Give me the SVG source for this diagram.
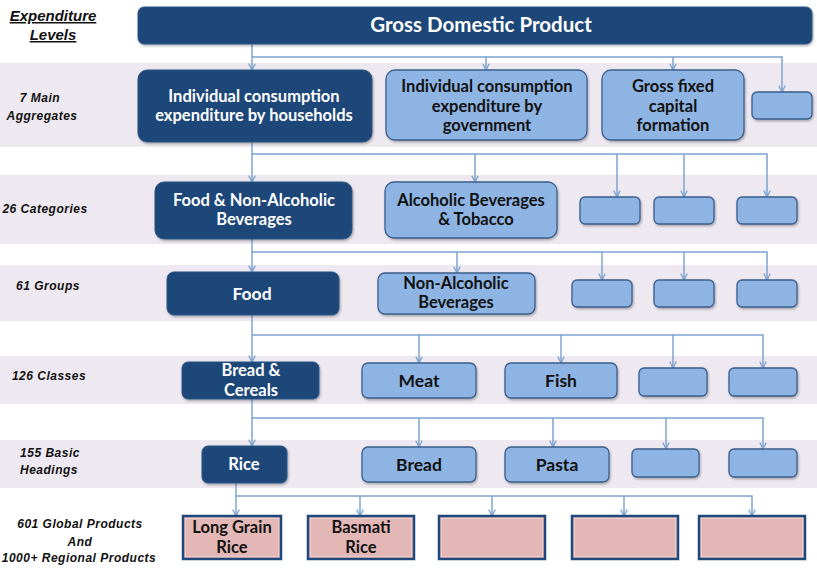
<svg xmlns="http://www.w3.org/2000/svg" width="817" height="572" viewBox="0 0 817 572">
<defs>
<style>
.band{fill:#EEE8F0}
.dk{fill:#1B4678;stroke:#2E5686;stroke-width:1}
.lt{fill:#8EB4E3;stroke:#3A5E8C;stroke-width:1.3}
.pk{fill:#E3B7B6;stroke:#1F497D;stroke-width:2.5}
.pki{fill:none;stroke:#F2D0CF;stroke-width:0.8}
.tw{fill:#fff;font-family:Lato,"Liberation Sans",sans-serif;font-weight:bold;font-size:16.5px;text-anchor:middle}
.tb{fill:#111;font-family:Lato,"Liberation Sans",sans-serif;font-weight:bold;font-size:16.5px;text-anchor:middle}
.big{font-size:17.5px}
.lv{fill:#111;font-family:"Liberation Sans",Arial,sans-serif;font-weight:bold;font-style:italic;font-size:12px;letter-spacing:0.5px;text-anchor:middle}
.hd{fill:#111;font-family:"Liberation Sans",Arial,sans-serif;font-weight:bold;font-style:italic;font-size:15px;text-anchor:middle;text-decoration:underline}
.cn{fill:none;stroke:#7EA3D0;stroke-width:1.5}
</style>
<marker id="ah" viewBox="0 0 10 10" refX="9" refY="5" markerWidth="8" markerHeight="8" markerUnits="userSpaceOnUse" orient="auto">
<path d="M1,1 L9,5 L1,9" fill="none" stroke="#7EA3D0" stroke-width="1.6"/>
</marker>
<filter id="sh" x="-10%" y="-10%" width="130%" height="140%">
<feDropShadow dx="1" dy="1.5" stdDeviation="1" flood-color="#000" flood-opacity="0.3"/>
</filter>
</defs>

<g id="bands">
<rect class="band" x="0" y="63" width="817" height="84"/>
<rect class="band" x="0" y="175" width="817" height="69"/>
<rect class="band" x="0" y="265" width="817" height="56"/>
<rect class="band" x="0" y="356" width="817" height="48"/>
<rect class="band" x="0" y="440" width="817" height="48"/>
</g>

<g id="levels">
<text class="hd" x="53" y="21">Expenditure</text>
<text class="hd" x="53" y="40">Levels</text>
<text class="lv" x="40" y="102">7 Main</text>
<text class="lv" x="42" y="120">Aggregates</text>
<text class="lv" x="45" y="213">26 Categories</text>
<text class="lv" x="48" y="290">61 Groups</text>
<text class="lv" x="49" y="380">126 Classes</text>
<text class="lv" x="50" y="457">155 Basic</text>
<text class="lv" x="49" y="474">Headings</text>
<text class="lv" x="80" y="528">601 Global Products</text>
<text class="lv" x="80" y="546">And</text>
<text class="lv" x="79" y="562">1000+ Regional Products</text>
</g>

<g id="connectors">
<path class="cn" d="M252,44 V70" marker-end="url(#ah)"/>
<path class="cn" d="M252,57 H782 V92" marker-end="url(#ah)"/>
<path class="cn" d="M486,57 V70" marker-end="url(#ah)"/>
<path class="cn" d="M673,57 V70" marker-end="url(#ah)"/>

<path class="cn" d="M252,142 V182" marker-end="url(#ah)"/>
<path class="cn" d="M252,154 H767 V197" marker-end="url(#ah)"/>
<path class="cn" d="M475,154 V182" marker-end="url(#ah)"/>
<path class="cn" d="M617,154 V197" marker-end="url(#ah)"/>
<path class="cn" d="M684,154 V197" marker-end="url(#ah)"/>

<path class="cn" d="M252,239 V272" marker-end="url(#ah)"/>
<path class="cn" d="M252,252 H767 V280" marker-end="url(#ah)"/>
<path class="cn" d="M457,252 V273" marker-end="url(#ah)"/>
<path class="cn" d="M602,252 V280" marker-end="url(#ah)"/>
<path class="cn" d="M684,252 V280" marker-end="url(#ah)"/>

<path class="cn" d="M252,315 V362" marker-end="url(#ah)"/>
<path class="cn" d="M252,335 H763 V368" marker-end="url(#ah)"/>
<path class="cn" d="M419,335 V363" marker-end="url(#ah)"/>
<path class="cn" d="M561,335 V363" marker-end="url(#ah)"/>
<path class="cn" d="M673,335 V368" marker-end="url(#ah)"/>

<path class="cn" d="M252,399 V446" marker-end="url(#ah)"/>
<path class="cn" d="M252,418 H763 V449" marker-end="url(#ah)"/>
<path class="cn" d="M419,418 V447" marker-end="url(#ah)"/>
<path class="cn" d="M553,418 V447" marker-end="url(#ah)"/>
<path class="cn" d="M666,418 V449" marker-end="url(#ah)"/>

<path class="cn" d="M236,483 V516" marker-end="url(#ah)"/>
<path class="cn" d="M236,496 H752 V516" marker-end="url(#ah)"/>
<path class="cn" d="M360,496 V516" marker-end="url(#ah)"/>
<path class="cn" d="M492,496 V516" marker-end="url(#ah)"/>
<path class="cn" d="M624,496 V516" marker-end="url(#ah)"/>
</g>

<g id="gdp">
<rect class="dk" x="138" y="7" width="674" height="37" rx="6" filter="url(#sh)"/>
<text class="tw" x="481" y="32" style="font-size:20.5px">Gross Domestic Product</text>
</g>

<g id="households">
<rect class="dk" x="138" y="70" width="234" height="72" rx="9" filter="url(#sh)"/>
<text class="tw" x="254" y="102">Individual consumption</text>
<text class="tw" x="254" y="121">expenditure by households</text>
</g>
<g id="government">
<rect class="lt" x="386" y="70" width="201" height="70" rx="9" filter="url(#sh)"/>
<text class="tb" x="487" y="92">Individual consumption</text>
<text class="tb" x="487" y="112">expenditure by</text>
<text class="tb" x="487" y="131">government</text>
</g>
<g id="gfcf">
<rect class="lt" x="602" y="70" width="142" height="70" rx="9" filter="url(#sh)"/>
<text class="tb" x="673" y="92">Gross fixed</text>
<text class="tb" x="673" y="112">capital</text>
<text class="tb" x="673" y="131">formation</text>
</g>
<g id="agg4">
<rect class="lt" x="752" y="92" width="60" height="27" rx="5" filter="url(#sh)"/>
</g>

<g id="food-nab">
<rect class="dk" x="155" y="182" width="197" height="57" rx="9" filter="url(#sh)"/>
<text class="tw" x="254" y="206">Food &amp; Non-Alcoholic</text>
<text class="tw" x="254" y="225">Beverages</text>
</g>
<g id="alcohol">
<rect class="lt" x="385" y="182" width="172" height="56" rx="9" filter="url(#sh)"/>
<text class="tb" x="471" y="206">Alcoholic Beverages</text>
<text class="tb" x="476" y="225">&amp; Tobacco</text>
</g>
<g id="cat3"><rect class="lt" x="580" y="197" width="60" height="27" rx="5" filter="url(#sh)"/></g>
<g id="cat4"><rect class="lt" x="654" y="197" width="60" height="27" rx="5" filter="url(#sh)"/></g>
<g id="cat5"><rect class="lt" x="737" y="197" width="60" height="27" rx="5" filter="url(#sh)"/></g>

<g id="food">
<rect class="dk" x="167" y="272" width="172" height="43" rx="7" filter="url(#sh)"/>
<text class="tw big" x="252" y="300">Food</text>
</g>
<g id="nab">
<rect class="lt" x="378" y="273" width="157" height="41" rx="7" filter="url(#sh)"/>
<text class="tb" x="456" y="289">Non-Alcoholic</text>
<text class="tb" x="456" y="308">Beverages</text>
</g>
<g id="grp3"><rect class="lt" x="572" y="280" width="60" height="27" rx="5" filter="url(#sh)"/></g>
<g id="grp4"><rect class="lt" x="654" y="280" width="60" height="27" rx="5" filter="url(#sh)"/></g>
<g id="grp5"><rect class="lt" x="737" y="280" width="60" height="27" rx="5" filter="url(#sh)"/></g>

<g id="bread-cereals">
<rect class="dk" x="182" y="362" width="137" height="37" rx="6" filter="url(#sh)"/>
<text class="tw" x="251" y="376">Bread &amp;</text>
<text class="tw" x="251" y="396">Cereals</text>
</g>
<g id="meat">
<rect class="lt" x="362" y="363" width="114" height="35" rx="6" filter="url(#sh)"/>
<text class="tb big" x="419" y="387">Meat</text>
</g>
<g id="fish">
<rect class="lt" x="505" y="363" width="112" height="35" rx="6" filter="url(#sh)"/>
<text class="tb big" x="561" y="387">Fish</text>
</g>
<g id="cls4"><rect class="lt" x="639" y="368" width="68" height="28" rx="5" filter="url(#sh)"/></g>
<g id="cls5"><rect class="lt" x="729" y="368" width="68" height="28" rx="5" filter="url(#sh)"/></g>

<g id="rice">
<rect class="dk" x="202" y="446" width="85" height="37" rx="6" filter="url(#sh)"/>
<text class="tw" x="244" y="470">Rice</text>
</g>
<g id="bread">
<rect class="lt" x="362" y="447" width="114" height="35" rx="6" filter="url(#sh)"/>
<text class="tb big" x="419" y="471">Bread</text>
</g>
<g id="pasta">
<rect class="lt" x="505" y="447" width="104" height="35" rx="6" filter="url(#sh)"/>
<text class="tb big" x="557" y="471">Pasta</text>
</g>
<g id="bh4"><rect class="lt" x="632" y="449" width="67" height="28" rx="5" filter="url(#sh)"/></g>
<g id="bh5"><rect class="lt" x="729" y="449" width="68" height="28" rx="5" filter="url(#sh)"/></g>

<g id="long-grain">
<rect class="pk" x="183" y="516" width="98" height="43"/>
<rect class="pki" x="185.5" y="518.5" width="93" height="38"/>
<text class="tb" x="232" y="533">Long Grain</text>
<text class="tb" x="232" y="553">Rice</text>
</g>
<g id="basmati">
<rect class="pk" x="308" y="516" width="106" height="43"/>
<rect class="pki" x="310.5" y="518.5" width="101" height="38"/>
<text class="tb" x="361" y="533">Basmati</text>
<text class="tb" x="361" y="553">Rice</text>
</g>
<g id="prod3"><rect class="pk" x="439" y="516" width="106" height="43"/><rect class="pki" x="441.5" y="518.5" width="101" height="38"/></g>
<g id="prod4"><rect class="pk" x="572" y="516" width="106" height="43"/><rect class="pki" x="574.5" y="518.5" width="101" height="38"/></g>
<g id="prod5"><rect class="pk" x="699" y="516" width="106" height="43"/><rect class="pki" x="701.5" y="518.5" width="101" height="38"/></g>
</svg>
